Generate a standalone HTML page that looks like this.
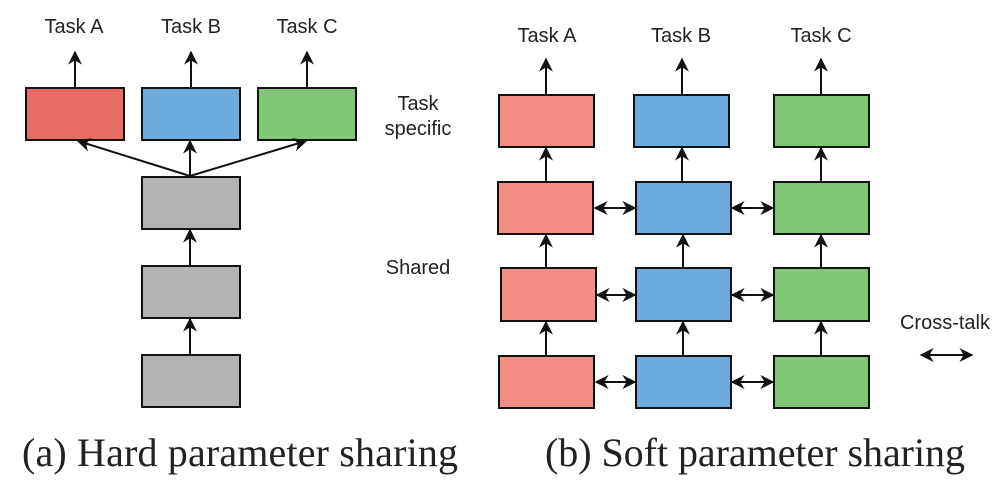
<!DOCTYPE html>
<html><head><style>
body{margin:0;background:#fff;width:1007px;height:481px;overflow:hidden}
svg text{font-family:"Liberation Sans",sans-serif;fill:#222}
</style></head><body>
<svg width="1007" height="481" viewBox="0 0 1007 481">
<defs>
<marker id="a" viewBox="0 0 10 10" refX="9" refY="5" markerWidth="14" markerHeight="14" markerUnits="userSpaceOnUse" orient="auto-start-reverse"><path d="M0,0 L10,5 L0,10 L3,5z" fill="#111"/></marker>
</defs>
<g stroke="#111" stroke-width="2">
<rect x="26" y="88" width="98" height="52" fill="#e96b66"/>
<rect x="142" y="88" width="98" height="52" fill="#6cabdc"/>
<rect x="258" y="88" width="98" height="52" fill="#81c577"/>
<rect x="142" y="177" width="98" height="52" fill="#b3b3b3"/>
<rect x="142" y="266" width="98" height="52" fill="#b3b3b3"/>
<rect x="142" y="355" width="98" height="52" fill="#b3b3b3"/>
</g>
<g stroke="#111" stroke-width="2" marker-end="url(#a)">
<line x1="75" y1="88" x2="75" y2="52"/>
<line x1="191" y1="88" x2="191" y2="52"/>
<line x1="307" y1="88" x2="307" y2="52"/>
<line x1="190" y1="176" x2="78" y2="141"/>
<line x1="190" y1="176" x2="190" y2="141"/>
<line x1="190" y1="176" x2="306" y2="141"/>
<line x1="190" y1="265" x2="190" y2="230"/>
<line x1="190" y1="354" x2="190" y2="319"/>
</g>
<g font-size="20" text-anchor="middle">
<text x="74" y="33">Task A</text><text x="191" y="33">Task B</text><text x="307" y="33">Task C</text>
<text x="418" y="110">Task</text><text x="418" y="135">specific</text>
<text x="418" y="274">Shared</text>
<text x="547" y="42">Task A</text><text x="681" y="42">Task B</text><text x="821" y="42">Task C</text>
<text x="945" y="329">Cross-talk</text>
</g>
<g stroke="#111" stroke-width="2">
<rect x="499" y="95" width="95" height="52" fill="#f48d84"/>
<rect x="634" y="95" width="95" height="52" fill="#6cabdc"/>
<rect x="774" y="95" width="95" height="52" fill="#81c577"/>
<rect x="498" y="182" width="95" height="52" fill="#f48d84"/>
<rect x="636" y="182" width="95" height="52" fill="#6cabdc"/>
<rect x="774" y="182" width="95" height="52" fill="#81c577"/>
<rect x="501" y="268" width="95" height="53" fill="#f48d84"/>
<rect x="636" y="268" width="95" height="53" fill="#6cabdc"/>
<rect x="774" y="268" width="95" height="53" fill="#81c577"/>
<rect x="499" y="356" width="95" height="52" fill="#f48d84"/>
<rect x="636" y="356" width="95" height="52" fill="#6cabdc"/>
<rect x="774" y="356" width="95" height="52" fill="#81c577"/>
</g>
<g stroke="#111" stroke-width="2" marker-end="url(#a)">
<line x1="546" y1="95" x2="546" y2="59"/>
<line x1="682" y1="95" x2="682" y2="59"/>
<line x1="821" y1="95" x2="821" y2="59"/>
<line x1="546" y1="181" x2="546" y2="148"/>
<line x1="682" y1="181" x2="682" y2="148"/>
<line x1="821" y1="181" x2="821" y2="148"/>
<line x1="546" y1="267" x2="546" y2="235"/>
<line x1="683" y1="267" x2="683" y2="235"/>
<line x1="821" y1="267" x2="821" y2="235"/>
<line x1="546" y1="355" x2="546" y2="322"/>
<line x1="683" y1="355" x2="683" y2="322"/>
<line x1="821" y1="355" x2="821" y2="322"/>
</g>
<g stroke="#111" stroke-width="2" marker-start="url(#a)" marker-end="url(#a)">
<line x1="595" y1="208" x2="635" y2="208"/>
<line x1="732" y1="208" x2="773" y2="208"/>
<line x1="597" y1="295" x2="635" y2="295"/>
<line x1="732" y1="295" x2="773" y2="295"/>
<line x1="596" y1="382" x2="635" y2="382"/>
<line x1="732" y1="382" x2="773" y2="382"/>
<line x1="921" y1="355" x2="972" y2="355"/>
</g>
<g font-size="40">
<text x="22" y="466" textLength="436" style="font-family:'Liberation Serif',serif">(a) Hard parameter sharing</text>
<text x="545" y="466" textLength="420" style="font-family:'Liberation Serif',serif">(b) Soft parameter sharing</text>
</g>
</svg>
</body></html>
